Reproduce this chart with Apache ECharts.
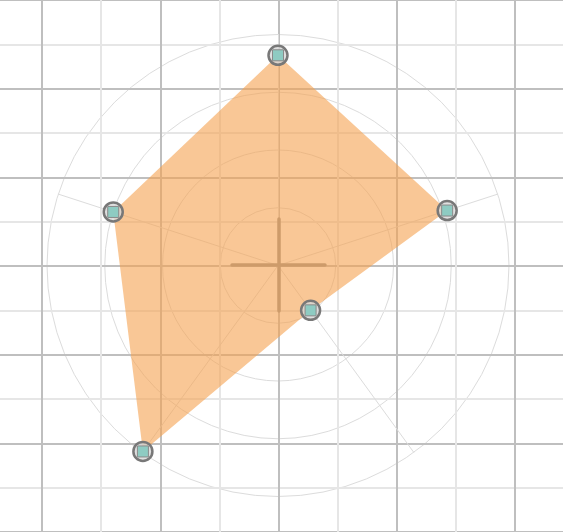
<!DOCTYPE html>
<html>
<head>
<meta charset="utf-8">
<script src="https://cdn.jsdelivr.net/npm/echarts@6/dist/echarts.min.js"></script>
<style>html,body{margin:0;padding:0;background:#fff}#c{width:563px;height:532px}</style>
</head>
<body>
<div id="c"></div>
<script>
var indicatorNames = ['A', 'B', 'C', 'D', 'E'];
var indicatorMax = [100, 100, 100, 100, 100];
var values = [91, 75, 99.5, 24, 77];
var gridXRange = [-2, 2];
var gridYRange = [-3, 3];
var crossRange = [-1, 1];

var chart = echarts.init(document.getElementById('c'), null, {renderer: 'canvas'});
var noAxisParts = {axisLine: {show: false}, axisTick: {show: false}, axisLabel: {show: false}};
var majorLine = {show: true, lineStyle: {color: '#bfbfbf', width: 2}};
var minorLine = {show: true, lineStyle: {color: '#e6e6e6', width: 2}};
var crossAxis = {
  type: 'value', min: crossRange[0], max: crossRange[1],
  axisLine: {show: true, onZero: true, lineStyle: {color: '#929292', width: 3.5}},
  axisTick: {show: false}, axisLabel: {show: false}, splitLine: {show: false}
};
var option = {
  animation: false,
  backgroundColor: '#ffffff',
  grid: [
    {left: 0, right: 0, top: 0, bottom: 0, containLabel: false},
    {left: 42, right: 48, top: 0, bottom: 0, containLabel: false},
    {left: 232, width: 93, top: 219, height: 92, containLabel: false}
  ],
  xAxis: [
    Object.assign({type: 'value', gridIndex: 0, min: 0, max: 1, splitLine: {show: false}}, noAxisParts),
    Object.assign({type: 'value', gridIndex: 1, min: gridXRange[0], max: gridXRange[1], interval: 1,
      splitLine: majorLine, minorTick: {show: false, splitNumber: 2}, minorSplitLine: minorLine}, noAxisParts),
    Object.assign({gridIndex: 2}, crossAxis)
  ],
  yAxis: [
    Object.assign({type: 'value', gridIndex: 0, min: gridYRange[0], max: gridYRange[1], interval: 1,
      splitLine: majorLine, minorTick: {show: false, splitNumber: 2}, minorSplitLine: minorLine}, noAxisParts),
    Object.assign({type: 'value', gridIndex: 1, min: 0, max: 1, splitLine: {show: false}}, noAxisParts),
    Object.assign({gridIndex: 2}, crossAxis)
  ],
  radar: {
    center: [278, 265.5],
    radius: 231,
    startAngle: 90,
    splitNumber: 4,
    shape: 'circle',
    indicator: indicatorNames.map(function (n, i) { return {name: n, max: indicatorMax[i]}; }),
    axisName: {show: false},
    axisLine: {lineStyle: {color: '#dcdcdc', width: 1}},
    splitLine: {lineStyle: {color: '#dcdcdc', width: 1}},
    splitArea: {show: false},
    axisTick: {show: false},
    axisLabel: {show: false}
  },
  series: [
    {
      type: 'radar',
      z: 2,
      symbol: 'circle',
      symbolSize: 19,
      itemStyle: {color: 'rgba(215,215,215,0.8)', borderColor: '#787878', borderWidth: 2.5},
      lineStyle: {width: 0, opacity: 0},
      areaStyle: {color: 'rgb(245,162,80)', opacity: 0.6},
      data: [{value: values}]
    },
    {
      type: 'radar',
      z: 3,
      symbol: 'rect',
      symbolSize: 11,
      itemStyle: {color: '#8ecbc2', borderColor: '#8a8a8a', borderWidth: 1},
      lineStyle: {width: 0, opacity: 0},
      data: [{value: values}]
    }
  ]
};
chart.setOption(option);
</script>
</body>
</html>
